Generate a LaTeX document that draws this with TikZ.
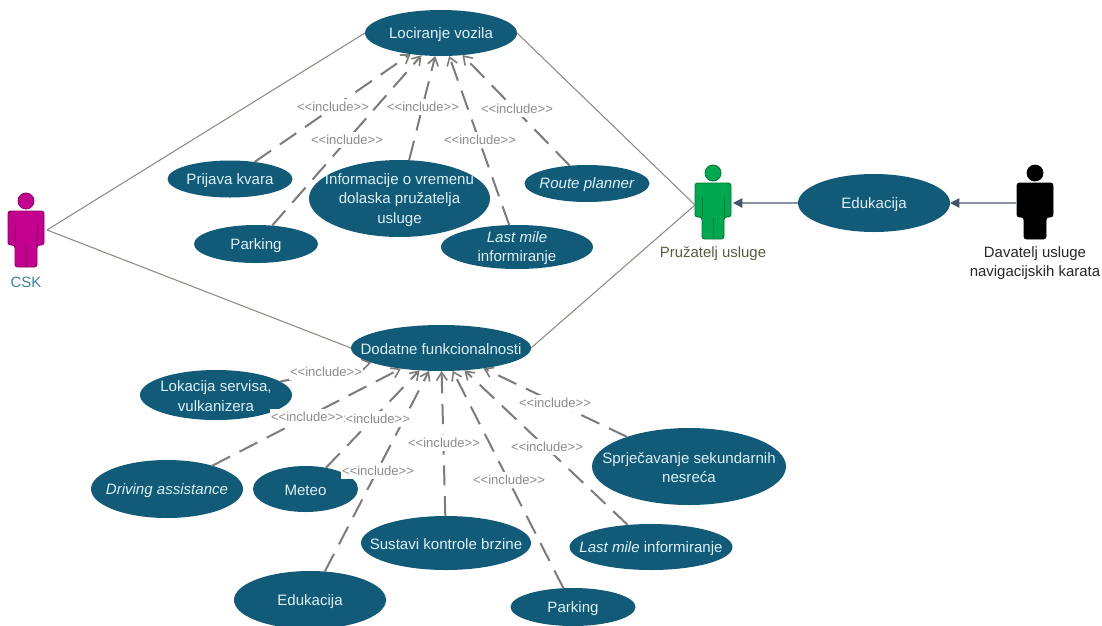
\documentclass[tikz,border=0pt]{standalone}
\usepackage{fontspec}
\setmainfont{Liberation Sans}
\usetikzlibrary{shapes.geometric,arrows.meta}
\definecolor{ucfill}{HTML}{115A78}
\definecolor{uctxt}{HTML}{DDF1F6}
\definecolor{dashgrey}{HTML}{7F7B78}
\definecolor{lblgrey}{HTML}{8C8C8C}
\definecolor{linegrey}{HTML}{8F8A84}
\definecolor{arrowline}{HTML}{8A93A0}
\definecolor{arrowhead}{HTML}{44546A}
\definecolor{magentaact}{HTML}{C4008E}
\definecolor{greenact}{HTML}{00A84F}
\definecolor{cskblue}{HTML}{3A7FA6}
\definecolor{pruztxt}{HTML}{5A5A42}
\tikzset{
  usecase/.style 2 args={ellipse,fill=ucfill,inner sep=0pt,outer sep=0pt,minimum width=#1*0.75pt,minimum height=#2*0.75pt},
  uctext/.style={text=uctxt,font=\fontsize{11.3}{14.6}\selectfont,align=center,inner sep=0pt,yshift=-1pt},
  inc/.style={draw=dashgrey,line width=1.5pt,dash pattern=on 15pt off 8pt,-{Straight Barb[length=6pt,width=8pt,line width=1.2pt]}},
  lbl/.style={fill=white,text=lblgrey,font=\fontsize{9.8}{11}\selectfont,inner xsep=0.5pt,inner ysep=2.2pt},
  assoc/.style={draw=linegrey,line width=0.8pt},
  flow/.style={draw=arrowline,line width=1pt,-{Triangle[length=7pt,width=7pt,fill=arrowhead,color=arrowhead]}},
  actorlabel/.style={font=\fontsize{11.2}{14.5}\selectfont,align=center,inner sep=0pt}
}
\newcommand{\inclabel}{<{}<include>{}>}
\newcommand{\usecasenode}[6]{%
  \node[usecase={#4}{#5}] (#1) at (#2,#3) {};
  \node[uctext] (#1-t) at (#2,#3) {#6};}
\newcommand{\actorfig}[4]{%
  \begin{scope}[shift={(#2,#3)}]
    \fill[#4,draw=#4!70!black,line width=0.6pt] (0,-29) circle (6pt);
    \filldraw[fill=#4,draw=#4!70!black,line width=0.7pt,rounded corners=2pt]
      (-18,-19) -- (18,-19) -- (18,15) -- (11,15) -- (11,37) -- (-11,37) -- (-11,15) -- (-18,15) -- cycle;
    \draw[#4!70!black,line width=0.6pt] (0,15) -- (0,37) (-11,-5) -- (-11,15) (11,-5) -- (11,15);
  \end{scope}
  \coordinate (#1) at (#2,#3);}
\begin{document}
\begin{tikzpicture}[x=0.75pt,y=-0.75pt]
\useasboundingbox (0,0) rectangle (1102,625);
% actors
\actorfig{cskfig}{26}{230}{magentaact}
\actorfig{pruzfig}{713}{202}{greenact}
\actorfig{davfig}{1035}{202}{black}
\coordinate (cskport) at (47,230);
\coordinate (pruzport) at (695,205);
\coordinate (pruzin) at (733,203);
\coordinate (davport) at (1016,203);
% use cases
\usecasenode{loc}{441}{33}{152}{46}{Lociranje vozila}
\usecasenode{prijava}{230}{179}{125}{37}{Prijava kvara}
\usecasenode{parkA}{256}{244}{124}{38}{Parking}
\usecasenode{info}{399.5}{198.5}{181}{77}{Informacije o vremenu\\dolaska pružatelja\\usluge}
\usecasenode{route}{587}{183.5}{125}{37}{\textit{Route planner}}
\usecasenode{lastA}{517}{247}{152}{44}{\textit{Last mile}\\informiranje}
\usecasenode{eduR}{874}{203}{152}{58}{Edukacija}
\usecasenode{dod}{441}{348}{180}{46}{Dodatne funkcionalnosti}
\usecasenode{lok}{216}{395}{152}{50}{Lokacija servisa,\\vulkanizera}
\usecasenode{driv}{167}{489}{152}{58}{\textit{Driving assistance}}
\usecasenode{meteo}{305.5}{489}{105}{46}{Meteo}
\usecasenode{sust}{446}{543}{170}{54}{Sustavi kontrole brzine}
\usecasenode{eduB}{310}{600}{152}{58}{Edukacija}
\usecasenode{parkB}{573}{607}{125}{38}{Parking}
\usecasenode{lastB}{651}{547}{163}{46}{\textit{Last mile} informiranje}
\usecasenode{sprj}{689}{466.5}{194}{77}{Sprječavanje sekundarnih\\nesreća}
% associations
\draw[assoc] (cskport) -- (loc.west);
\draw[assoc] (cskport) -- (dod.west);
\draw[assoc] (loc.east) -- (pruzport);
\draw[assoc] (dod.east) -- (pruzport);
% flows
\draw[flow] (eduR) -- (pruzin);
\draw[flow] (davport) -- (eduR);
% includes
\foreach \s in {prijava,parkA,info,lastA,route}{\draw[inc] (\s) -- (loc);}
\foreach \s in {lok,driv,meteo,eduB,sust,parkB,lastB,sprj}{\draw[inc] (\s) -- (dod);}
% labels (order matters: they mask what lies beneath)
\node[lbl] (l1) at (333,107) {\inclabel};
\node[lbl] (l2) at (347,140) {\inclabel};
\node[lbl] (l3) at (423,107) {\inclabel};
\node[lbl] (l4) at (480,140) {\inclabel};
\node[lbl] (l5) at (517,109) {\inclabel};
\node[lbl] (l6) at (326,372) {\inclabel};
\node[lbl] (l7) at (374,419) {\inclabel};
\node[lbl] (l8) at (307,417) {\inclabel};
\node[lbl] (l9) at (378,471) {\inclabel};
\node[lbl] (l10) at (444,443) {\inclabel};
\node[lbl] (l11) at (509,480) {\inclabel};
\node[lbl] (l12) at (547,447) {\inclabel};
\node[lbl] (l13) at (555,403) {\inclabel};
% actor names
\node[actorlabel,text=cskblue] (cskname) at (26,282) {CSK};
\node[actorlabel,text=pruztxt] (pruzname) at (713,254) {Pružatelj usluge};
\node[actorlabel,text=black!85] (davname) at (1035,263) {Davatelj usluge\\navigacijskih karata};
\end{tikzpicture}
\end{document}
